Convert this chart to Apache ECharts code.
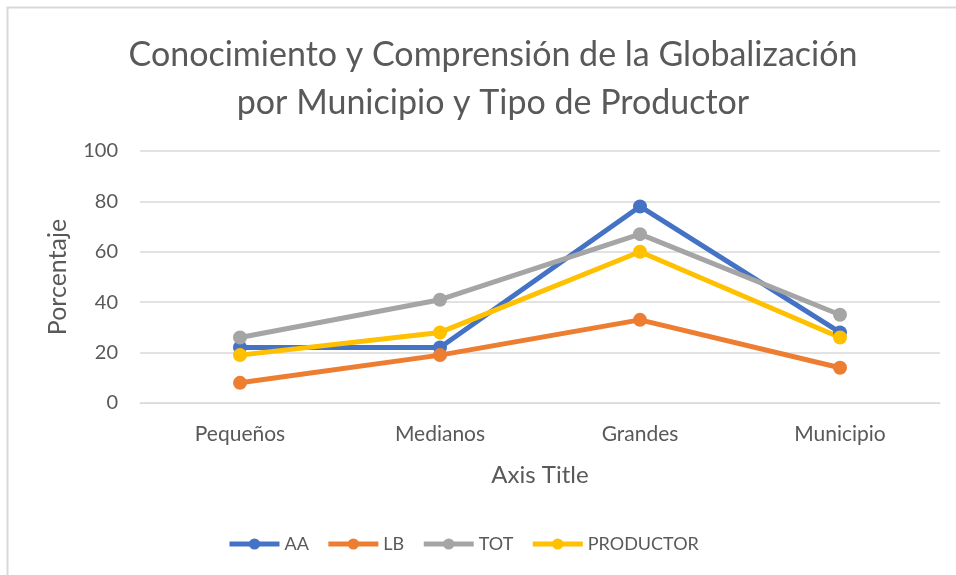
<!DOCTYPE html>
<html>
<head>
<meta charset="utf-8">
<script src="https://cdn.jsdelivr.net/npm/echarts@6/dist/echarts.min.js"></script>
<style>
  html, body { margin: 0; padding: 0; background: #fff; }
  #chart { width: 956px; height: 575px; }
</style>
</head>
<body>
<div id="chart"></div>
<script>
// Categories along the x axis
const categories = ['Pequeños', 'Medianos', 'Grandes', 'Municipio'];

// Percentages per series
const seriesAA = [22, 22, 78, 28];
const seriesLB = [8, 19, 33, 14];
const seriesTOT = [26, 41, 67, 35];
const seriesPRODUCTOR = [19, 28, 60, 26];

const seriesNames = ['AA', 'LB', 'TOT', 'PRODUCTOR'];
const seriesColors = ['#4472C4', '#ED7D31', '#A5A5A5', '#FFC000'];
const seriesData = [seriesAA, seriesLB, seriesTOT, seriesPRODUCTOR];

const fontFamily = 'Lato, "Open Sans", sans-serif';
const textColor = '#595959';

const chart = echarts.init(document.getElementById('chart'), null, { renderer: 'canvas' });

chart.setOption({
  backgroundColor: '#fff',
  animation: false,
  title: {
    text: 'Conocimiento y Comprensión de la Globalización\npor Municipio y Tipo de Productor',
    left: 488,
    top: 26,
    textAlign: 'center',
    textStyle: {
      fontFamily: fontFamily,
      fontWeight: 'normal',
      fontSize: 34,
      lineHeight: 48,
      color: textColor
    }
  },
  graphic: [{
    type: 'rect',
    shape: { x: 7.5, y: 7.5, width: 960, height: 580 },
    style: { fill: 'none', stroke: '#d9d9d9', lineWidth: 2 },
    silent: true
  }],
  legend: {
    bottom: 17,
    left: 222,
    itemWidth: 50,
    itemHeight: 14,
    itemGap: 17,
    textStyle: { fontFamily: fontFamily, fontSize: 18, color: textColor },
    lineStyle: { width: 5 },
    data: seriesNames
  },
  grid: {
    left: 140,
    right: 16,
    top: 151,
    bottom: 172
  },
  xAxis: {
    type: 'category',
    data: categories,
    boundaryGap: true,
    name: 'Axis Title',
    nameLocation: 'middle',
    nameGap: 60,
    nameTextStyle: { fontFamily: fontFamily, fontSize: 24, color: textColor },
    axisLine: { show: true, lineStyle: { color: '#d9d9d9', width: 1 } },
    axisTick: { show: false },
    axisLabel: { fontFamily: fontFamily, fontSize: 21, color: textColor, margin: 21 }
  },
  yAxis: {
    type: 'value',
    min: 0,
    max: 100,
    interval: 20,
    name: 'Porcentaje',
    nameLocation: 'middle',
    nameGap: 70,
    nameTextStyle: { fontFamily: fontFamily, fontSize: 25, color: textColor },
    axisLine: { show: false },
    axisTick: { show: false },
    axisLabel: { fontFamily: fontFamily, fontSize: 20, color: textColor, margin: 22 },
    splitLine: { lineStyle: { color: '#d9d9d9', width: 1.5 } }
  },
  series: seriesNames.map((name, i) => ({
    name: name,
    type: 'line',
    data: seriesData[i],
    symbol: 'circle',
    symbolSize: 14,
    lineStyle: { width: 5, color: seriesColors[i] },
    itemStyle: { color: seriesColors[i] }
  }))
});
</script>
</body>
</html>
